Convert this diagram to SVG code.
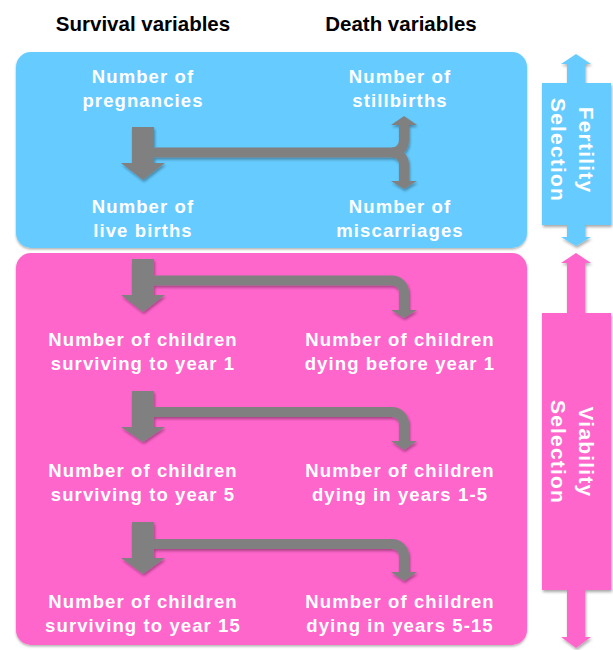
<svg xmlns="http://www.w3.org/2000/svg" width="613" height="650" viewBox="0 0 613 650">
<defs>
<filter id="sh" x="-10%" y="-10%" width="130%" height="130%">
<feDropShadow dx="1" dy="2" stdDeviation="1.5" flood-color="#000" flood-opacity="0.35"/>
</filter>
<filter id="bsh" x="-5%" y="-5%" width="110%" height="110%">
<feDropShadow dx="0" dy="1.5" stdDeviation="1.2" flood-color="#000" flood-opacity="0.3"/>
</filter>
</defs>
<style>
.hdr{font-family:"Liberation Sans",Arial,sans-serif;font-weight:bold;font-size:20.5px;fill:#000;text-anchor:middle}
.lbl{font-family:"Liberation Sans",Arial,sans-serif;font-weight:bold;font-size:18.5px;letter-spacing:1.1px;fill:#fff;text-anchor:middle}
.side{font-family:"Liberation Sans",Arial,sans-serif;font-weight:bold;font-size:21px;letter-spacing:1.2px;fill:#fff;text-anchor:middle}
.blue{fill:#66CCFF}
.pink{fill:#FF66CC}
.ga{fill:#808080}
.gl{fill:none;stroke:#808080;stroke-width:10}
</style>

<g id="headers">
<text class="hdr" x="143" y="31">Survival variables</text>
<text class="hdr" x="401" y="31">Death variables</text>
</g>

<g id="fertility-box">
<rect class="blue" x="16" y="52" width="511" height="196" rx="15" filter="url(#bsh)"/>
</g>
<g id="viability-box">
<rect class="pink" x="16" y="253" width="511" height="392" rx="15" filter="url(#bsh)"/>
</g>

<g id="fertility-selection" filter="url(#sh)">
<polygon class="blue" points="576,54 591,64 585,64 585,237 591,237 576,246 561,237 567,237 567,64 561,64"/>
<rect class="blue" x="542" y="83" width="69" height="142"/>
</g>
<g id="fertility-selection-label">
<text class="side" transform="translate(579,150) rotate(90)">Fertility</text>
<text class="side" transform="translate(551,150) rotate(90)">Selection</text>
</g>

<g id="viability-selection" filter="url(#sh)">
<polygon class="pink" points="576,253 591,263 585,263 585,637 591,637 576,648 561,637 567,637 567,263 561,263"/>
<rect class="pink" x="542" y="313" width="69" height="277"/>
</g>
<g id="viability-selection-label">
<text class="side" transform="translate(579,452) rotate(90)">Viability</text>
<text class="side" transform="translate(551,452) rotate(90)">Selection</text>
</g>

<g id="connectors" filter="url(#sh)">
<!-- group 1 -->
<rect class="ga" x="132" y="127" width="22" height="37"/>
<polygon class="ga" points="121,163 165,163 143,180"/>
<path class="gl" d="M152,152.5 H392 A12,12 0 0 0 404,140.5 V124"/>
<path class="gl" d="M392,152.5 A12,12 0 0 1 404,164.5 V182"/>
<polygon class="ga" points="391,125 417,125 404,116"/>
<polygon class="ga" points="391,181 417,181 404,189"/>
<!-- group 2 -->
<rect class="ga" x="132" y="259" width="22" height="37"/>
<polygon class="ga" points="121,295 165,295 143,312"/>
<path class="gl" d="M152,280.5 H392 A12,12 0 0 1 404,292.5 V311"/>
<polygon class="ga" points="391,310 417,310 404,318"/>
<!-- group 3 -->
<rect class="ga" x="132" y="391" width="22" height="37"/>
<polygon class="ga" points="121,427 165,427 143,442"/>
<path class="gl" d="M152,412 H392 A12,12 0 0 1 404,424 V442"/>
<polygon class="ga" points="391,441 417,441 404,450"/>
<!-- group 4 -->
<rect class="ga" x="132" y="522" width="22" height="37"/>
<polygon class="ga" points="121,558 165,558 143,574"/>
<path class="gl" d="M152,544 H392 A12,12 0 0 1 404,556 V573"/>
<polygon class="ga" points="391,572 417,572 404,581"/>
</g>

<g id="pregnancies"><text class="lbl" x="143" y="83">Number of</text><text class="lbl" x="143" y="107">pregnancies</text></g>
<g id="stillbirths"><text class="lbl" x="400" y="83">Number of</text><text class="lbl" x="400" y="107">stillbirths</text></g>
<g id="live-births"><text class="lbl" x="143" y="213">Number of</text><text class="lbl" x="143" y="237">live births</text></g>
<g id="miscarriages"><text class="lbl" x="400" y="213">Number of</text><text class="lbl" x="400" y="237">miscarriages</text></g>
<g id="surv1"><text class="lbl" x="143" y="346">Number of children</text><text class="lbl" x="143" y="370">surviving to year 1</text></g>
<g id="die1"><text class="lbl" x="400" y="346">Number of children</text><text class="lbl" x="400" y="370">dying before year 1</text></g>
<g id="surv5"><text class="lbl" x="143" y="477">Number of children</text><text class="lbl" x="143" y="501">surviving to year 5</text></g>
<g id="die5"><text class="lbl" x="400" y="477">Number of children</text><text class="lbl" x="400" y="501">dying in years 1-5</text></g>
<g id="surv15"><text class="lbl" x="143" y="608">Number of children</text><text class="lbl" x="143" y="632">surviving to year 15</text></g>
<g id="die15"><text class="lbl" x="400" y="608">Number of children</text><text class="lbl" x="400" y="632">dying in years 5-15</text></g>
</svg>
